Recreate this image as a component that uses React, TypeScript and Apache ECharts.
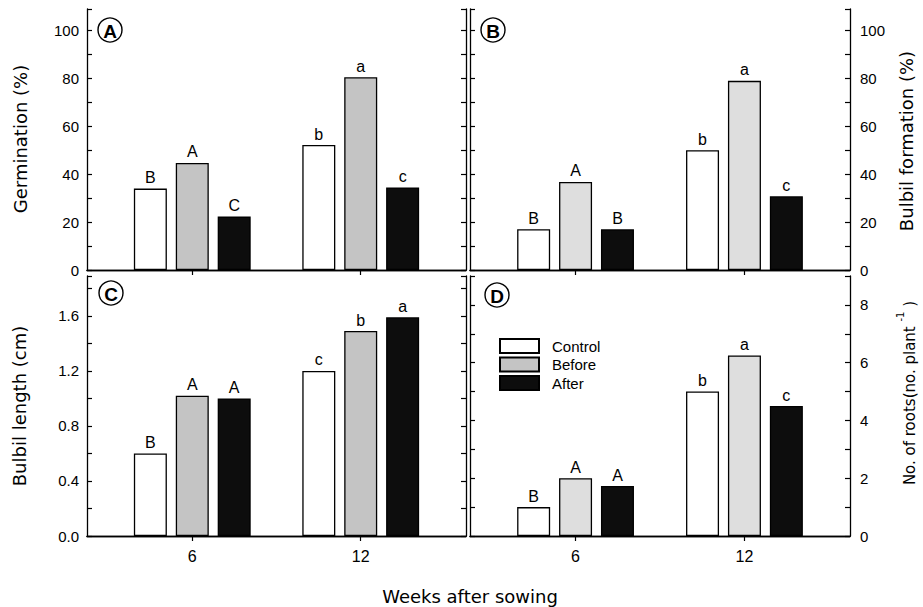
import React, { useEffect, useRef } from 'react';
import * as echarts from 'echarts';

// ---- data ----
const weeks = [6, 12];
const seriesNames = ['Control', 'Before', 'After'];

const germControl = [34, 52.2];
const germBefore = [44.7, 80.5];
const germAfter = [22.3, 34.5];
const germLetters = [['B', 'b'], ['A', 'a'], ['C', 'c']];

const formControl = [17, 50];
const formBefore = [36.8, 79];
const formAfter = [17, 30.8];
const formLetters = [['B', 'b'], ['A', 'a'], ['B', 'c']];

const lenControl = [0.6, 1.2];
const lenBefore = [1.02, 1.49];
const lenAfter = [1.0, 1.59];
const lenLetters = [['B', 'c'], ['A', 'b'], ['A', 'a']];

const rootControl = [1.0, 5.0];
const rootBefore = [2.0, 6.25];
const rootAfter = [1.73, 4.5];
const rootLetters = [['B', 'b'], ['A', 'a'], ['A', 'c']];

const panelTags = ['A', 'B', 'C', 'D'];
const yTitles = ['Germination (%)', 'Bulbil formation (%)', 'Bulbil length (cm)'];

const FONT = '"Liberation Sans", Arial, sans-serif';
const TFONT = '"DejaVu Sans", sans-serif';

export default function App() {
  const ref = useRef<HTMLDivElement>(null);

  useEffect(() => {
    if (!ref.current) return;
    const chart = echarts.init(ref.current, null, { renderer: 'svg' });

    const panels = [
      { grid: { left: 87, top: 9, width: 379, height: 261 }, max: 109, interval: 10, labelStep: 20, labelMax: 100, dec: 0, labelSide: 'left', vals: [germControl, germBefore, germAfter], letters: germLetters, before: '#c4c4c4', showX: false },
      { grid: { left: 470, top: 9, width: 380, height: 261 }, max: 109, interval: 10, labelStep: 20, labelMax: 100, dec: 0, labelSide: 'right', vals: [formControl, formBefore, formAfter], letters: formLetters, before: '#dedede', showX: false },
      { grid: { left: 87, top: 276, width: 379, height: 260 }, max: 1.89, interval: 0.2, labelStep: 0.4, labelMax: 1.6, dec: 1, labelSide: 'left', vals: [lenControl, lenBefore, lenAfter], letters: lenLetters, before: '#c4c4c4', showX: true },
      { grid: { left: 470, top: 276, width: 380, height: 260 }, max: 9, interval: 1, labelStep: 2, labelMax: 8, dec: 0, labelSide: 'right', vals: [rootControl, rootBefore, rootAfter], letters: rootLetters, before: '#dedede', showX: true },
    ];

    const axisLine = { show: true, lineStyle: { color: '#000', width: 1.3 } };
    const grids: any[] = [];
    const xAxes: any[] = [];
    const yAxes: any[] = [];
    const series: any[] = [];

    panels.forEach((p, i) => {
      grids.push(p.grid);
      ['bottom', 'top'].forEach((pos) => {
        xAxes.push({
          type: 'value', gridIndex: i, position: pos, min: 2.25, max: 15.75,
          axisLine,
          axisTick: { show: true, inside: true, length: 5, customValues: weeks, lineStyle: { color: '#000', width: 1.2 } },
          axisLabel: { show: pos === 'bottom' && p.showX, customValues: weeks, fontSize: 16, margin: 12, color: '#000', fontFamily: FONT },
          splitLine: { show: false },
        });
      });
      ['left', 'right'].forEach((pos) => {
        yAxes.push({
          type: 'value', gridIndex: i, position: pos, min: 0, max: p.max, interval: p.interval,
          axisLine,
          axisTick: { show: true, inside: true, length: 5, lineStyle: { color: '#000', width: 1.2 } },
          axisLabel: {
            show: pos === p.labelSide, fontSize: 15, color: '#000', fontFamily: FONT, margin: pos === 'left' ? 8 : 10,
            formatter: (v: number) => {
              const k = v / p.labelStep;
              if (Math.abs(k - Math.round(k)) < 1e-6 && v <= p.labelMax + 1e-6) return v.toFixed(p.dec);
              return '';
            },
          },
          splitLine: { show: false },
        });
      });
      const fills = ['#ffffff', p.before, '#0d0d0d'];
      p.vals.forEach((vals, s) => {
        series.push({
          type: 'bar', name: seriesNames[s], xAxisIndex: 2 * i, yAxisIndex: 2 * i,
          data: weeks.map((w, k) => [w, vals[k]]),
          barWidth: 33, barGap: '27%',
          itemStyle: { color: fills[s], borderColor: '#000', borderWidth: 1.3 },
          label: {
            show: true, position: 'top', distance: 3, fontSize: 16, color: '#000', fontFamily: FONT,
            formatter: (prm: any) => p.letters[s][prm.dataIndex],
          },
        });
      });
    });

    const tagPos = [[110, 30], [493, 30], [111, 293], [497, 295]];
    const graphic: any[] = [];
    tagPos.forEach(([x, y], i) => {
      graphic.push({ type: 'circle', shape: { cx: x, cy: y, r: 12 }, style: { fill: '#fff', stroke: '#000', lineWidth: 1.4 }, z: 100 });
      graphic.push({ type: 'text', x, y: y + 1, style: { text: panelTags[i], fontSize: 19, fontWeight: 'bold', fontFamily: FONT, fill: '#000', align: 'center', verticalAlign: 'middle' }, z: 101 });
    });
    const vTitle = (text: string, x: number, y: number) => ({
      type: 'text', x, y, rotation: Math.PI / 2,
      style: { text, fontSize: 18, fontFamily: TFONT, fill: '#000', align: 'center', verticalAlign: 'middle' },
    });
    graphic.push(vTitle(yTitles[0], 20, 139));
    graphic.push(vTitle(yTitles[1], 906, 141));
    graphic.push(vTitle(yTitles[2], 19, 406));
    graphic.push({
      type: 'text', x: 906, y: 393, rotation: Math.PI / 2,
      style: {
        text: '{m|No. of roots(no. plant }{s|-1}{m| )}', fill: '#000', align: 'center', verticalAlign: 'middle',
        rich: {
          m: { fontSize: 15, fontFamily: TFONT, fill: '#000', lineHeight: 22, verticalAlign: 'bottom' },
          s: { fontSize: 10, fontFamily: TFONT, fill: '#000', lineHeight: 22, verticalAlign: 'top' },
        },
      },
    });
    graphic.push({
      type: 'text', x: 470, y: 596,
      style: { text: 'Weeks after sowing', fontSize: 18, fontFamily: TFONT, fill: '#000', align: 'center', verticalAlign: 'middle' },
    });

    chart.setOption({
      animation: false,
      backgroundColor: '#fff',
      grid: grids,
      xAxis: xAxes,
      yAxis: yAxes,
      series,
      legend: {
        show: true, left: 499, top: 338, padding: 0, orient: 'vertical', itemWidth: 39, itemHeight: 14, itemGap: 2.5,
        icon: 'rect', selectedMode: false, data: seriesNames,
        textStyle: { fontSize: 15, lineHeight: 14, fontFamily: FONT, color: '#000', padding: [0, 0, 0, 8] },
      },
      graphic,
    });

    return () => chart.dispose();
  }, []);

  return <div ref={ref} style={{ position: 'fixed', left: 0, top: 0, width: 923, height: 607 }} />;
}
